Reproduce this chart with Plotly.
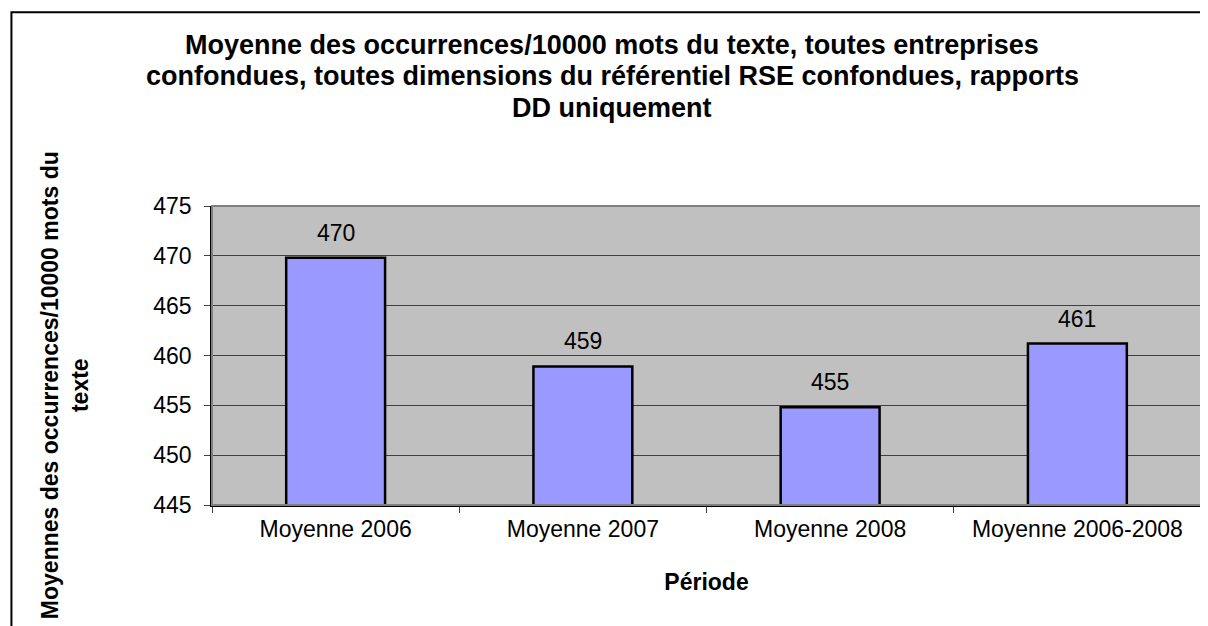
import plotly.graph_objects as go

categories = ["Moyenne 2006", "Moyenne 2007", "Moyenne 2008", "Moyenne 2006-2008"]
values = [469.8, 458.9, 454.8, 461.2]
y_ticks = [445, 450, 455, 460, 465, 470, 475]

title_lines = [
    "Moyenne des occurrences/10000 mots du texte, toutes entreprises",
    "confondues, toutes dimensions du référentiel RSE confondues, rapports",
    "DD uniquement",
]
ytitle_txt = "Moyennes des occurrences/10000 mots du<br>texte"

font = "Liberation Sans, Arial, sans-serif"

fig = go.Figure()
fig.add_trace(go.Bar(
    x=categories, y=values,
    marker=dict(color="#9999FF", line=dict(color="black", width=2.5)),
    width=0.4,
    hoverinfo="x+y",
))

# value labels above bars
for c, v in zip(categories, values):
    fig.add_annotation(x=c, y=v, text=f"{v:.0f}", showarrow=False, yshift=25,
                       font=dict(family=font, size=23, color="black"))

# title, one annotation per line to keep the tight spacing
for i, line in enumerate(title_lines):
    fig.add_annotation(text=line, xref="paper", yref="paper", x=0.4045, y=1.538 - i * 0.1045,
                       xanchor="center", yanchor="middle",
                       showarrow=False, align="center",
                       font=dict(family=font, size=27, color="black", weight="bold"))

fig.add_annotation(text=ytitle_txt, xref="paper", yref="paper", x=-0.1486, y=0.401,
                   xanchor="center", yanchor="middle",
                   showarrow=False, textangle=-90, align="center",
                   font=dict(family=font, size=23, color="black", weight="bold"))

# plot area frame and outer chart border
fig.add_shape(type="rect", xref="paper", yref="paper", x0=0, x1=1, y0=0, y1=1,
              line=dict(color="#808080", width=2), layer="above")
fig.add_shape(type="rect", xref="paper", yref="paper", x0=-0.2028, x1=1.01, y0=-0.5, y1=1.648,
              line=dict(color="black", width=2))

fig.update_layout(
    width=1208, height=626,
    margin=dict(l=204, r=15, t=198, b=129),
    paper_bgcolor="white", plot_bgcolor="#C0C0C0",
    showlegend=False,
    font=dict(family=font, size=23, color="black"),
    xaxis=dict(
        tickson="boundaries", ticks="outside", ticklen=6, tickcolor="#404040",
        showline=True, linecolor="black", linewidth=1.5,
        showgrid=False, ticklabelstandoff=3,
        title=dict(text="Période", font=dict(family=font, size=23, weight="bold"), standoff=33),
        tickfont=dict(size=23),
    ),
    yaxis=dict(
        range=[445, 475], tickvals=y_ticks, ticks="outside", ticklen=6, tickcolor="#404040",
        showline=True, linecolor="black", linewidth=1.5,
        showgrid=True, gridcolor="#404040", gridwidth=1,
        zeroline=False, tickfont=dict(size=23), ticklabelstandoff=8,
    ),
)

fig.write_html("out.html")
